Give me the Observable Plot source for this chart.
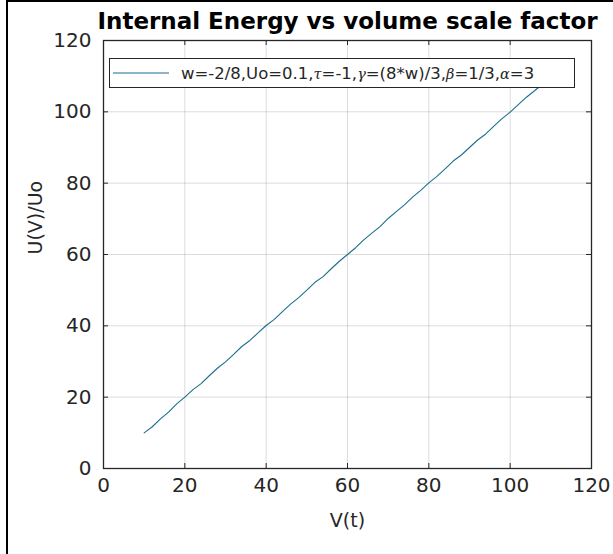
<!DOCTYPE html>
<html>
<head>
<meta charset="utf-8">
<script src="https://cdn.jsdelivr.net/npm/d3@7"></script>
<script src="https://cdn.jsdelivr.net/npm/@observablehq/plot@0.6"></script>
<style>
  html, body { margin: 0; padding: 0; background: #fff; }
  #wrap { position: relative; width: 613px; height: 554px; overflow: hidden; font-family: "DejaVu Sans", sans-serif; }
  #frame { position: absolute; left: 6px; top: 0; width: 640px; height: 600px; border-left: 2px solid #000; border-top: 2px solid #000; pointer-events: none; }
  #legend { position: absolute; left: 109px; top: 58px; width: 466px; height: 30px; background: #fff; border: 1px solid #262626; box-sizing: border-box; display: flex; align-items: center; font-size: 16.5px; color: #262626; white-space: nowrap; }
  #legend .g { font-style: italic; font-family: "DejaVu Serif", serif; font-size: 14.5px; }
</style>
</head>
<body>
<div id="wrap"></div>
<script>
const titleText = "Internal Energy vs volume scale factor";
const xLabel = "V(t)";
const yLabel = "U(V)/Uo";
const xTicks = [0, 20, 40, 60, 80, 100, 120];
const yTicks = [0, 20, 40, 60, 80, 100, 120];
const V = [10,12,14,16,18,20,22,24,26,28,30,32,34,36,38,40,42,44,46,48,50,52,54,56,58,60,62,64,66,68,70,72,74,76,78,80,82,84,86,88,90,92,94,96,98,100,102,104,106,108,110];
const U = [10.0,11.7,13.9,15.8,18.1,20.0,22.1,23.8,26.0,28.1,29.9,32.0,34.2,35.9,38.0,40.1,41.8,44.0,46.1,47.9,50.0,52.2,53.8,56.0,58.1,60.0,61.9,64.1,66.0,67.8,70.1,72.0,73.9,76.1,78.0,80.1,81.9,84.0,86.2,87.9,90.0,92.1,93.8,96.0,98.1,99.9,102.0,104.1,105.9,107.8,109.6];
const lineColor = "#1b6f8f";

const data = V.map((v, i) => ({V: v, U: U[i]}));
const x0 = xTicks[0], x1 = xTicks[xTicks.length - 1];
const y0 = yTicks[0], y1 = yTicks[yTicks.length - 1];

const chart = Plot.plot({
  width: 613,
  height: 554,
  marginLeft: 103,
  marginRight: 22,
  marginTop: 40,
  marginBottom: 86,
  style: {fontFamily: "DejaVu Sans, sans-serif", background: "#fff", overflow: "visible"},
  x: {domain: [x0, x1]},
  y: {domain: [y0, y1]},
  marks: [
    Plot.gridX(xTicks, {stroke: "#000", strokeOpacity: 0.14}),
    Plot.gridY(yTicks, {stroke: "#000", strokeOpacity: 0.14}),
    Plot.line(data, {x: "V", y: "U", stroke: lineColor, strokeWidth: 1.1}),
    Plot.frame({stroke: "#262626", strokeWidth: 1.3}),
    Plot.ruleX(xTicks, {x: d => d, y1: y0, y2: y0, insetTop: -5, stroke: "#262626"}),
    Plot.ruleX(xTicks, {x: d => d, y1: y1, y2: y1, insetBottom: -5, stroke: "#262626"}),
    Plot.ruleY(yTicks, {y: d => d, x1: x0, x2: x0, insetRight: -5, stroke: "#262626"}),
    Plot.ruleY(yTicks, {y: d => d, x1: x1, x2: x1, insetLeft: -5, stroke: "#262626"}),
    Plot.axisX(xTicks, {tickSize: 0, tickPadding: 9, fontSize: 20, color: "#262626", label: null}),
    Plot.axisY(yTicks, {tickSize: 0, tickPadding: 12, fontSize: 20, color: "#262626", label: null}),
    Plot.text([xLabel], {frameAnchor: "bottom", lineAnchor: "middle", dy: 52, fontSize: 19, fill: "#262626"}),
    Plot.text([yLabel], {frameAnchor: "left", dx: -68, rotate: -90, fontSize: 19, fill: "#262626"}),
    Plot.text([titleText], {frameAnchor: "top", lineAnchor: "middle", dy: -19, fontSize: 23, fontWeight: "bold", fill: "#000"})
  ]
});

const wrap = document.getElementById("wrap");
wrap.appendChild(chart);

const legend = document.createElement("div");
legend.id = "legend";
legend.innerHTML = `<svg width="68" height="20" style="margin-left:3px;flex:none"><line x1="0" x2="56" y1="10" y2="10" stroke="${lineColor}" stroke-width="1.2"/></svg>` +
  `<span>w=-2/8,Uo=0.1,<span class="g">τ</span>=-1,<span class="g">γ</span>=(8*w)/3,<span class="g">β</span>=1/3,<span class="g">α</span>=3</span>`;
wrap.appendChild(legend);

const frame = document.createElement("div");
frame.id = "frame";
wrap.appendChild(frame);
</script>
</body>
</html>
